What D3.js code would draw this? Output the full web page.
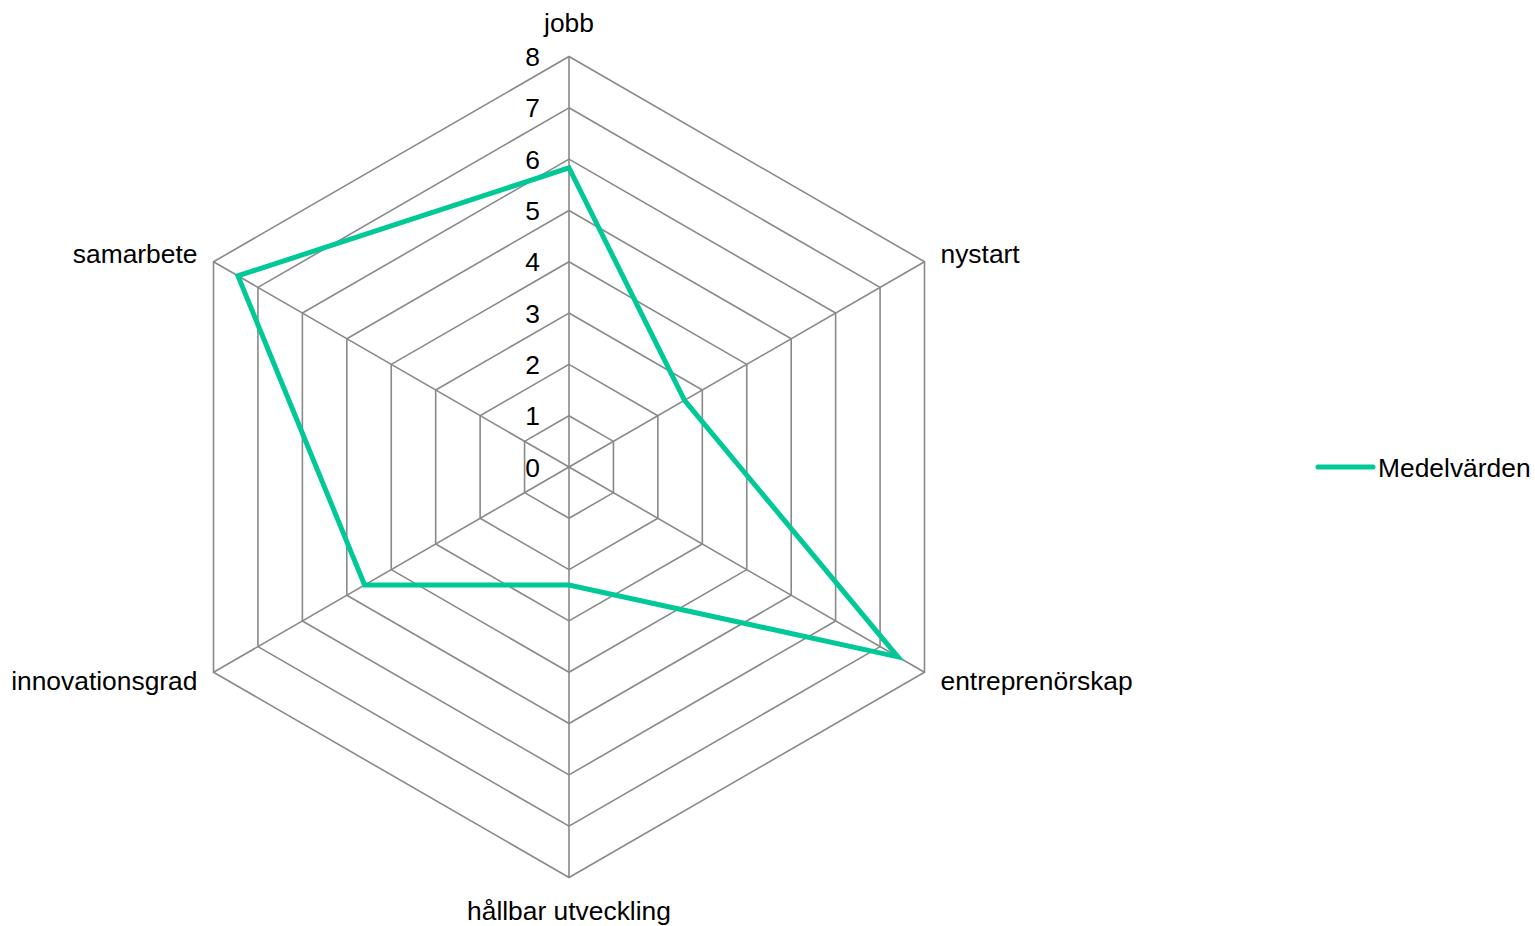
<!doctype html>
<html lang="sv">
  <head>
    <meta charset="utf-8">
    <script src="https://d3js.org/d3.v7.min.js"></script>
    <title>Medelvärden</title>
    <style>
      body { margin: 0; background: #fff; }
      text { font-family: "Liberation Sans", Arial, sans-serif; font-size: 26.4px; fill: #000; }
      .grid { fill: none; stroke: #898989; stroke-width: 1.6px; }
      .series { fill: none; stroke: #00c896; stroke-width: 5px; stroke-linejoin: miter; }
    </style>
  </head>
  <body>
    <svg width="1535" height="926"></svg>
    <script>
      // data
      const axes = ["jobb", "nystart", "entreprenörskap", "hållbar utveckling", "innovationsgrad", "samarbete"];
      const values = [5.83, 2.6, 7.4, 2.3, 4.6, 7.45];
      const ticks = [0, 1, 2, 3, 4, 5, 6, 7, 8];
      const seriesName = "Medelvärden";

      const cx = 569, cy = 467, R = 410.5;
      const svg = d3.select("svg");

      const r = d3.scaleLinear().domain([0, 8]).range([0, R]);
      const angle = d3.scalePoint().domain(axes.map((d, i) => i)).range([0, 2 * Math.PI * 5 / 6]);

      const pt = (i, v) => {
        const a = angle(i) - Math.PI / 2;
        return [cx + r(v) * Math.cos(a), cy + r(v) * Math.sin(a)];
      };

      const g = svg.append("g");

      // hexagon rings
      g.selectAll("path.ring")
        .data(ticks.filter(t => t > 0))
        .enter().append("path")
        .attr("class", "grid")
        .attr("d", t => d3.line()(axes.map((a, i) => pt(i, t))) + "Z");

      // spokes
      g.selectAll("line.spoke")
        .data(axes)
        .enter().append("line")
        .attr("class", "grid")
        .attr("x1", cx).attr("y1", cy)
        .attr("x2", (d, i) => pt(i, 8)[0])
        .attr("y2", (d, i) => pt(i, 8)[1]);

      // tick labels
      g.selectAll("text.tick")
        .data(ticks)
        .enter().append("text")
        .attr("x", cx - 29)
        .attr("y", t => cy - r(t))
        .attr("dy", "0.36em")
        .attr("text-anchor", "end")
        .text(t => t);

      // axis labels
      g.selectAll("text.axis")
        .data(axes)
        .enter().append("text")
        .attr("x", (d, i) => {
          const p = pt(i, 8);
          const s = Math.sin(angle(i));
          return Math.abs(s) < 0.01 ? p[0] : p[0] + (s > 0 ? 16 : -16);
        })
        .attr("y", (d, i) => {
          const p = pt(i, 8);
          const c = Math.cos(angle(i));
          const s = Math.sin(angle(i));
          if (Math.abs(s) < 0.01) return c > 0 ? p[1] - 34 : p[1] + 33;
          return p[1] - (c > 0 ? 8 : -8);
        })
        .attr("dy", "0.36em")
        .attr("text-anchor", (d, i) => {
          const s = Math.sin(angle(i));
          return Math.abs(s) < 0.01 ? "middle" : (s > 0 ? "start" : "end");
        })
        .text(d => d);

      // series
      svg.append("path")
        .attr("class", "series")
        .attr("d", d3.line()(values.map((v, i) => pt(i, v))) + "Z");

      // legend
      const lg = svg.append("g").attr("transform", "translate(1318,467)");
      lg.append("line").attr("x1", 0).attr("x2", 55).attr("y1", 0).attr("y2", 0)
        .attr("stroke", "#00c896").attr("stroke-width", 5).attr("stroke-linecap", "round");
      lg.append("text").attr("x", 60).attr("dy", "0.36em").text(seriesName);
    </script>
  </body>
</html>
